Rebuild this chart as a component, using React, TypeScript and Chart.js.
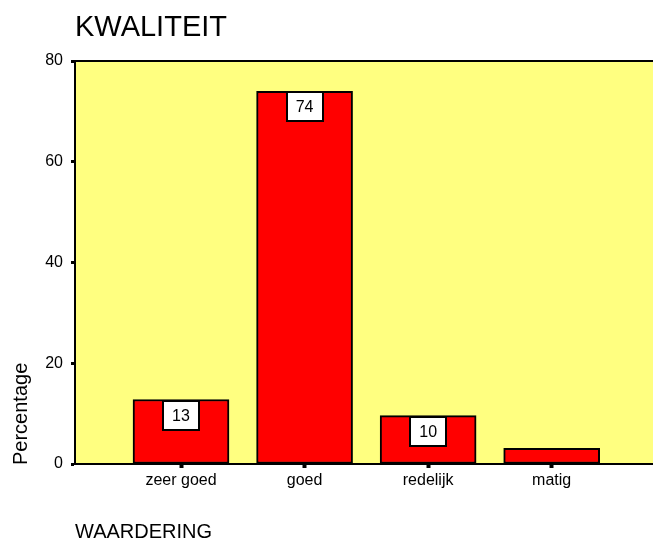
import { useEffect, useRef } from "react";
import { Chart, registerables } from "chart.js";

Chart.register(...registerables);

const chartTitle = "KWALITEIT";
const xAxisTitle = "WAARDERING";
const yAxisTitle = "Percentage";
const categories = ["zeer goed", "goed", "redelijk", "matig"];
const percentages = [12.8, 74.0, 9.6, 3.1];
const yTickValues = [0, 20, 40, 60, 80];

const FONT = "'Liberation Sans', Arial, Helvetica, sans-serif";

export default function App() {
  const ref = useRef<HTMLCanvasElement>(null);

  useEffect(() => {
    document.body.style.margin = "0";
    const canvas = ref.current;
    if (!canvas) return;

    const plotBackground = {
      id: "plotBackground",
      beforeDraw(chart: any) {
        const { ctx, chartArea: a } = chart;
        ctx.save();
        ctx.fillStyle = "#FFFF80";
        ctx.fillRect(a.left, a.top, a.right - a.left, a.bottom - a.top);
        ctx.restore();
      },
    };

    const valueBoxes = {
      id: "valueBoxes",
      afterDatasetsDraw(chart: any) {
        const { ctx } = chart;
        const meta = chart.getDatasetMeta(0);
        ctx.save();
        meta.data.forEach((bar: any, i: number) => {
          const h = bar.base - bar.y;
          const bw = 36;
          const bh = 29;
          if (h < bh + 8) return;
          const left = Math.round(bar.x - bw / 2);
          const top = Math.round(bar.y + 1);
          ctx.fillStyle = "#FFFFFF";
          ctx.fillRect(left, top, bw, bh);
          ctx.strokeStyle = "#000000";
          ctx.lineWidth = 2;
          ctx.strokeRect(left, top, bw, bh);
          ctx.fillStyle = "#000000";
          ctx.font = `16px ${FONT}`;
          ctx.textAlign = "center";
          ctx.textBaseline = "middle";
          ctx.fillText(String(Math.round(percentages[i])), bar.x, top + bh / 2 + 1);
        });
        ctx.restore();
      },
    };

    const frameAndTexts = {
      id: "frameAndTexts",
      afterDraw(chart: any) {
        const { ctx, chartArea: a } = chart;
        ctx.save();
        ctx.strokeStyle = "#000000";
        ctx.lineWidth = 2;
        ctx.beginPath();
        ctx.moveTo(a.left - 1, a.top);
        ctx.lineTo(a.right, a.top);
        ctx.stroke();

        ctx.fillStyle = "#000000";
        ctx.textBaseline = "alphabetic";
        ctx.textAlign = "left";
        ctx.font = `29px ${FONT}`;
        ctx.fillText(chartTitle, a.left, 36);

        ctx.font = `20px ${FONT}`;
        ctx.fillText(xAxisTitle, a.left, 538);

        ctx.save();
        ctx.translate(27, a.bottom + 1);
        ctx.rotate(-Math.PI / 2);
        ctx.fillText(yAxisTitle, 0, 0);
        ctx.restore();
        ctx.restore();
      },
    };

    const chart = new Chart(canvas, {
      type: "bar",
      data: {
        datasets: [
          {
            data: categories.map((c, i) => ({ x: i + 1, y: percentages[i] })),
            backgroundColor: "#FF0000",
            borderColor: "#000000",
            borderWidth: 2,
            borderSkipped: false,
            barThickness: 96,
          },
        ],
      },
      options: {
        animation: false,
        responsive: false,
        layout: { padding: { top: 61, left: 0, right: 0, bottom: 0 } },
        plugins: {
          legend: { display: false },
          title: { display: false },
          tooltip: { enabled: false },
        },
        scales: {
          x: {
            type: "linear",
            offset: false,
            min: 0.142,
            max: 4.82,
            afterBuildTicks(scale: any) {
              scale.ticks = categories.map((_, i) => ({ value: i + 1 }));
            },
            afterFit(scale: any) {
              scale.height = 76;
            },
            ticks: {
              color: "#000000",
              font: { family: FONT, size: 16 },
              padding: 3,
              maxRotation: 0,
              autoSkip: false,
              callback: (value: any) => categories[Math.round(Number(value)) - 1] ?? "",
            },
            grid: {
              offset: false,
              drawOnChartArea: false,
              drawTicks: true,
              tickLength: 4,
              tickWidth: 4,
              tickColor: "#000000",
            },
            border: { display: true, color: "#000000", width: 2 },
          },
          y: {
            type: "linear",
            min: 0,
            max: 80,
            afterBuildTicks(scale: any) {
              scale.ticks = yTickValues.map((v) => ({ value: v }));
            },
            afterFit(scale: any) {
              scale.width = 75;
            },
            ticks: {
              color: "#000000",
              font: { family: FONT, size: 16 },
              padding: 8,
            },
            grid: {
              drawOnChartArea: false,
              drawTicks: true,
              tickLength: 4,
              tickWidth: 3,
              tickColor: "#000000",
            },
            border: { display: true, color: "#000000", width: 2 },
          },
        },
      },
      plugins: [plotBackground, valueBoxes, frameAndTexts],
    });

    return () => chart.destroy();
  }, []);

  return (
    <div style={{ width: 653, height: 540 }}>
      <canvas ref={ref} width={653} height={540} />
    </div>
  );
}
